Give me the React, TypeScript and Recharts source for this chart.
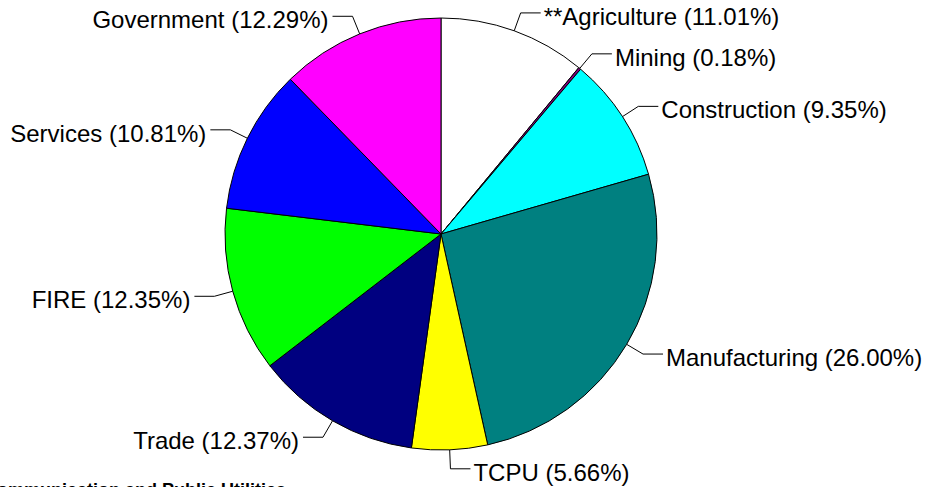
import React from 'react';
import { PieChart, Pie, Cell } from 'recharts';

const sectors = [
  '**Agriculture',
  'Mining',
  'Construction',
  'Manufacturing',
  'TCPU',
  'Trade',
  'FIRE',
  'Services',
  'Government',
];
const shares = [11.01, 0.18, 9.35, 26.0, 5.66, 12.37, 12.35, 10.81, 12.29];
const colors = [
  '#FFFFFF',
  '#800080',
  '#00FFFF',
  '#008080',
  '#FFFF00',
  '#000080',
  '#00FF00',
  '#0000FF',
  '#FF00FF',
];
const footnote = 'TCPU = Transportation, Communication and Public Utilities';

const data = sectors.map((name, i) => ({ name, value: shares[i] }));

const RAD = Math.PI / 180;
const FONT = '"Liberation Sans", Arial, sans-serif';

const renderLabel = (props: any) => {
  const { cx, cy, midAngle, outerRadius, name, value } = props;
  const cos = Math.cos(-midAngle * RAD);
  const sin = Math.sin(-midAngle * RAD);
  const x0 = cx + outerRadius * cos;
  const y0 = cy + outerRadius * sin;
  const x1 = cx + (outerRadius + 19) * cos;
  const y1 = cy + (outerRadius + 19) * sin;
  const right = cos >= 0;
  const x2 = x1 + (right ? 20 : -20);
  const tx = x2 + (right ? 3 : -4);
  return (
    <g>
      <polyline points={`${x0},${y0} ${x1},${y1} ${x2},${y1}`} fill="none" stroke="#000" strokeWidth={1} />
      <text
        x={tx}
        y={y1 + 12}
        textAnchor={right ? 'start' : 'end'}
        fontFamily={FONT}
        fontSize={24}
        fill="#000"
      >
        {`${name} (${value.toFixed(2)}%)`}
      </text>
    </g>
  );
};

export default function App() {
  return (
    <div style={{ position: 'absolute', left: 0, top: 0, width: 930, height: 487, background: '#fff' }}>
      <PieChart width={930} height={487} margin={{ top: 0, right: 0, bottom: 0, left: 0 }}>
        <Pie
          data={data}
          dataKey="value"
          nameKey="name"
          cx={441}
          cy={234}
          outerRadius={216}
          startAngle={90}
          endAngle={-270}
          stroke="#000"
          strokeWidth={1}
          labelLine={false}
          label={renderLabel}
          isAnimationActive={false}
        >
          {data.map((d, i) => (
            <Cell key={d.name} fill={colors[i]} />
          ))}
        </Pie>
        <text x={286} y={496} textAnchor="end" fontFamily={FONT} fontSize={18} fontWeight="bold" fill="#000">
          {footnote}
        </text>
      </PieChart>
    </div>
  );
}
